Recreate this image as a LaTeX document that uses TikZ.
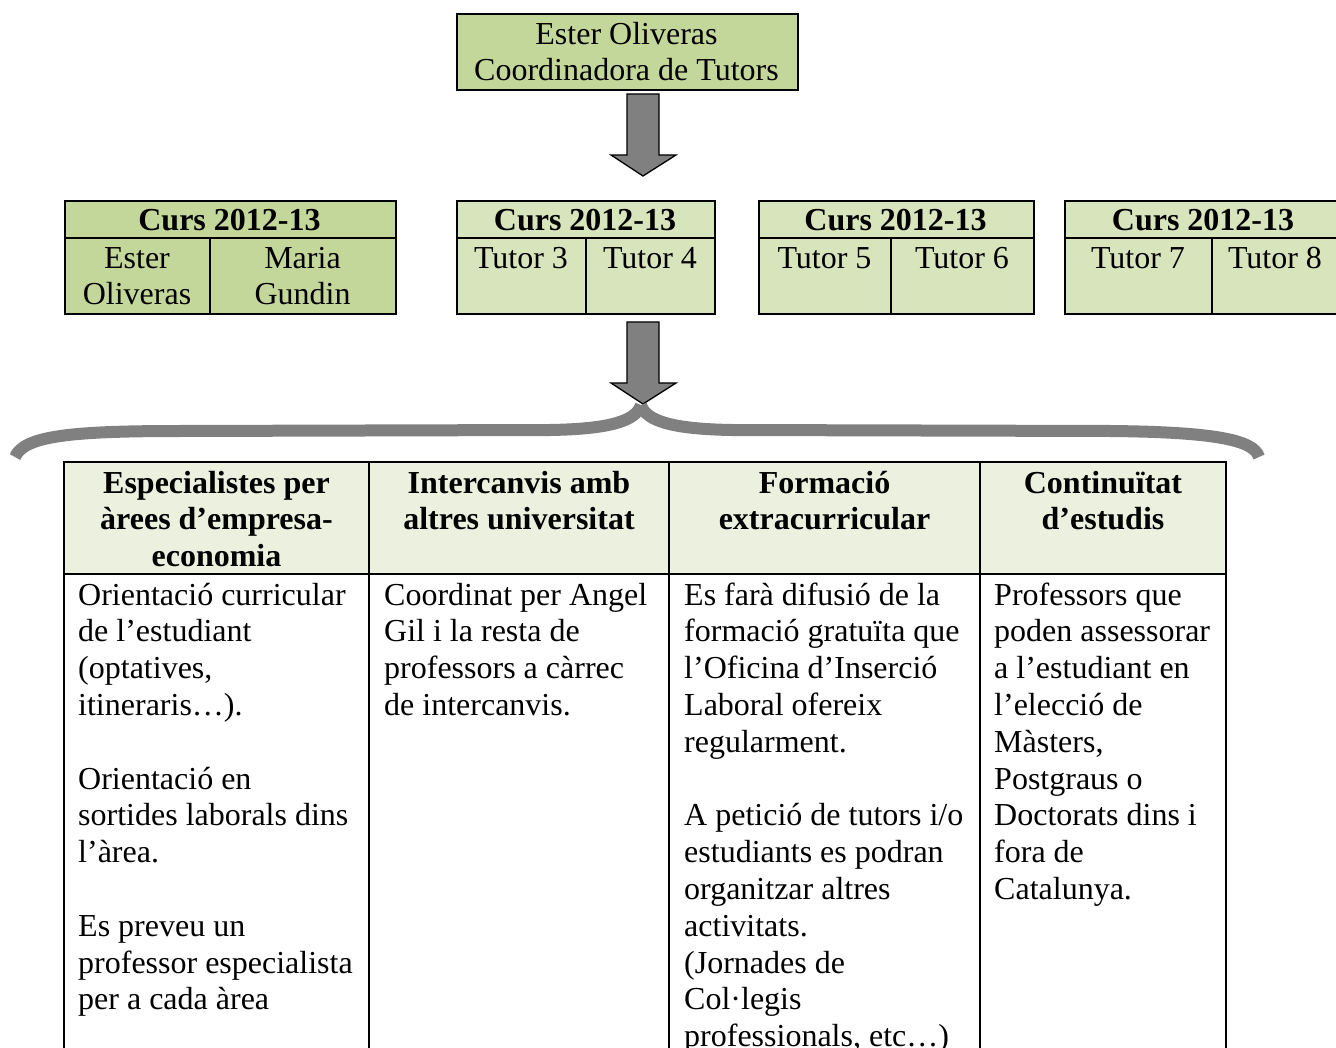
\documentclass[tikz,border=0pt]{standalone}
\usepackage{fontspec}
\setmainfont{Liberation Serif}
\newcommand\bodyfont{\fontsize{32}{36.8}\selectfont}
\definecolor{gdark}{HTML}{C4D79B}
\definecolor{glight}{HTML}{D8E4BC}
\definecolor{ghead}{HTML}{EBF1DE}
\definecolor{agray}{HTML}{808080}
\begin{document}
\begin{tikzpicture}[x=1pt,y=-1pt, font=\bodyfont,
  box/.style={draw=black, line width=2pt, inner sep=0pt, anchor=north west},
  rule/.style={draw=black, line width=2pt},
  txt/.style={anchor=north, inner sep=0pt, align=center},
  cell/.style={anchor=north west, inner sep=0pt, align=left},
  bigarrow/.style={fill=agray, draw=black, line width=1.3pt, line join=miter},
  brace/.style={draw=agray, line width=12pt, line cap=butt}]
\useasboundingbox (0,0) rectangle (1336,1048);

% top box
\node[box, fill=gdark, minimum width=341pt, minimum height=76pt] (topbox) at (456,13) {};
\node[txt] (toptxt) at (626.5,18.2) {\strut Ester Oliveras\\Coordinadora de Tutors};

% arrow 1
\coordinate (a1) at (643,94);
\draw[bigarrow, shift={(a1)}] (-16,0) -- (16,0) -- (16,61) -- (33,61) -- (0,82) -- (-32,61) -- (-16,61) -- cycle;

% course boxes
\node[box, fill=gdark, minimum width=331pt, minimum height=113pt] (b1) at (64,200) {};
\node[box, fill=glight, minimum width=258pt, minimum height=113pt] (b2) at (456,200) {};
\node[box, fill=glight, minimum width=275pt, minimum height=113pt] (b3) at (758,200) {};
\node[box, fill=glight, minimum width=276pt, minimum height=113pt] (b4) at (1064,200) {};
\draw[rule] (64,238.5) -- (395,238.5) (210,238.5) -- (210,313);
\draw[rule] (456,238.5) -- (714,238.5) (586,238.5) -- (586,313);
\draw[rule] (758,238.5) -- (1033,238.5) (891,238.5) -- (891,313);
\draw[rule] (1064,238.5) -- (1340,238.5) (1212,238.5) -- (1212,313);

\node[txt, font=\bodyfont\bfseries] (h1) at (229.5,204.2) {\strut Curs 2012-13};
\node[txt, font=\bodyfont\bfseries] (h2) at (585,204.2) {\strut Curs 2012-13};
\node[txt, font=\bodyfont\bfseries] (h3) at (895.5,204.2) {\strut Curs 2012-13};
\node[txt, font=\bodyfont\bfseries] (h4) at (1203,204.2) {\strut Curs 2012-13};

\node[txt] (t1) at (137,242.2) {\strut Ester\\Oliveras};
\node[txt] (t2) at (302.5,242.2) {\strut Maria\\Gundin};
\node[txt] (t3) at (521,242.2) {\strut Tutor 3};
\node[txt] (t4) at (650,242.2) {\strut Tutor 4};
\node[txt] (t5) at (824.5,242.2) {\strut Tutor 5};
\node[txt] (t6) at (962,242.2) {\strut Tutor 6};
\node[txt] (t7) at (1138,242.2) {\strut Tutor 7};
\node[txt] (t8) at (1275,242.2) {\strut Tutor 8};

% arrow 2
\coordinate (a2) at (643,322);
\draw[bigarrow, shift={(a2)}] (-16,0) -- (16,0) -- (16,61) -- (33,61) -- (0,82) -- (-32,61) -- (-16,61) -- cycle;

% brace
\coordinate (bl) at (15,457);
\coordinate (bp) at (641,405);
\coordinate (br) at (1259,457);
\draw[brace] (bl) .. controls (24,436) and (70,431) .. (180,431) -- (550,430)
  .. controls (610,429) and (636,421) .. (bp);
\draw[brace] (bp) .. controls (646,421) and (672,429) .. (732,430) -- (1110,431)
  .. controls (1215,432) and (1254,440) .. (br);

% table
\fill[ghead] (64,462) rectangle (1226,574);
\draw[rule] (63,462) -- (1227,462) (64,574) -- (1226,574);
\draw[rule] (64,462) -- (64,1048) (369,462) -- (369,1048) (669,462) -- (669,1048)
  (980,462) -- (980,1048) (1226,462) -- (1226,1048);

\node[txt, font=\bodyfont\bfseries] (c1) at (216.5,467.2) {\strut Especialistes per\\àrees d’empresa-\\economia};
\node[txt, font=\bodyfont\bfseries] (c2) at (519,467.2) {\strut Intercanvis amb\\altres universitat};
\node[txt, font=\bodyfont\bfseries] (c3) at (824.5,467.2) {\strut Formació\\extracurricular};
\node[txt, font=\bodyfont\bfseries] (c4) at (1103,467.2) {\strut Continuïtat\\d’estudis};

\node[cell] (d1) at (78,579.2) {\strut Orientació curricular\\de l’estudiant\\(optatives,\\itineraris…).\\\mbox{}\\Orientació en\\sortides laborals dins\\l’àrea.\\\mbox{}\\Es preveu un\\professor especialista\\per a cada àrea};
\node[cell] (d2) at (384,579.2) {\strut Coordinat per Angel\\Gil i la resta de\\professors a càrrec\\de intercanvis.};
\node[cell] (d3) at (684,579.2) {\strut Es farà difusió de la\\formació gratuïta que\\l’Oficina d’Inserció\\Laboral ofereix\\regularment.\\\mbox{}\\A petició de tutors i/o\\estudiants es podran\\organitzar altres\\activitats.\\(Jornades de\\Col·legis\\professionals, etc…)};
\node[cell] (d4) at (994,579.2) {\strut Professors que\\poden assessorar\\a l’estudiant en\\l’elecció de\\Màsters,\\Postgraus o\\Doctorats dins i\\fora de\\Catalunya.};
\end{tikzpicture}
\end{document}
